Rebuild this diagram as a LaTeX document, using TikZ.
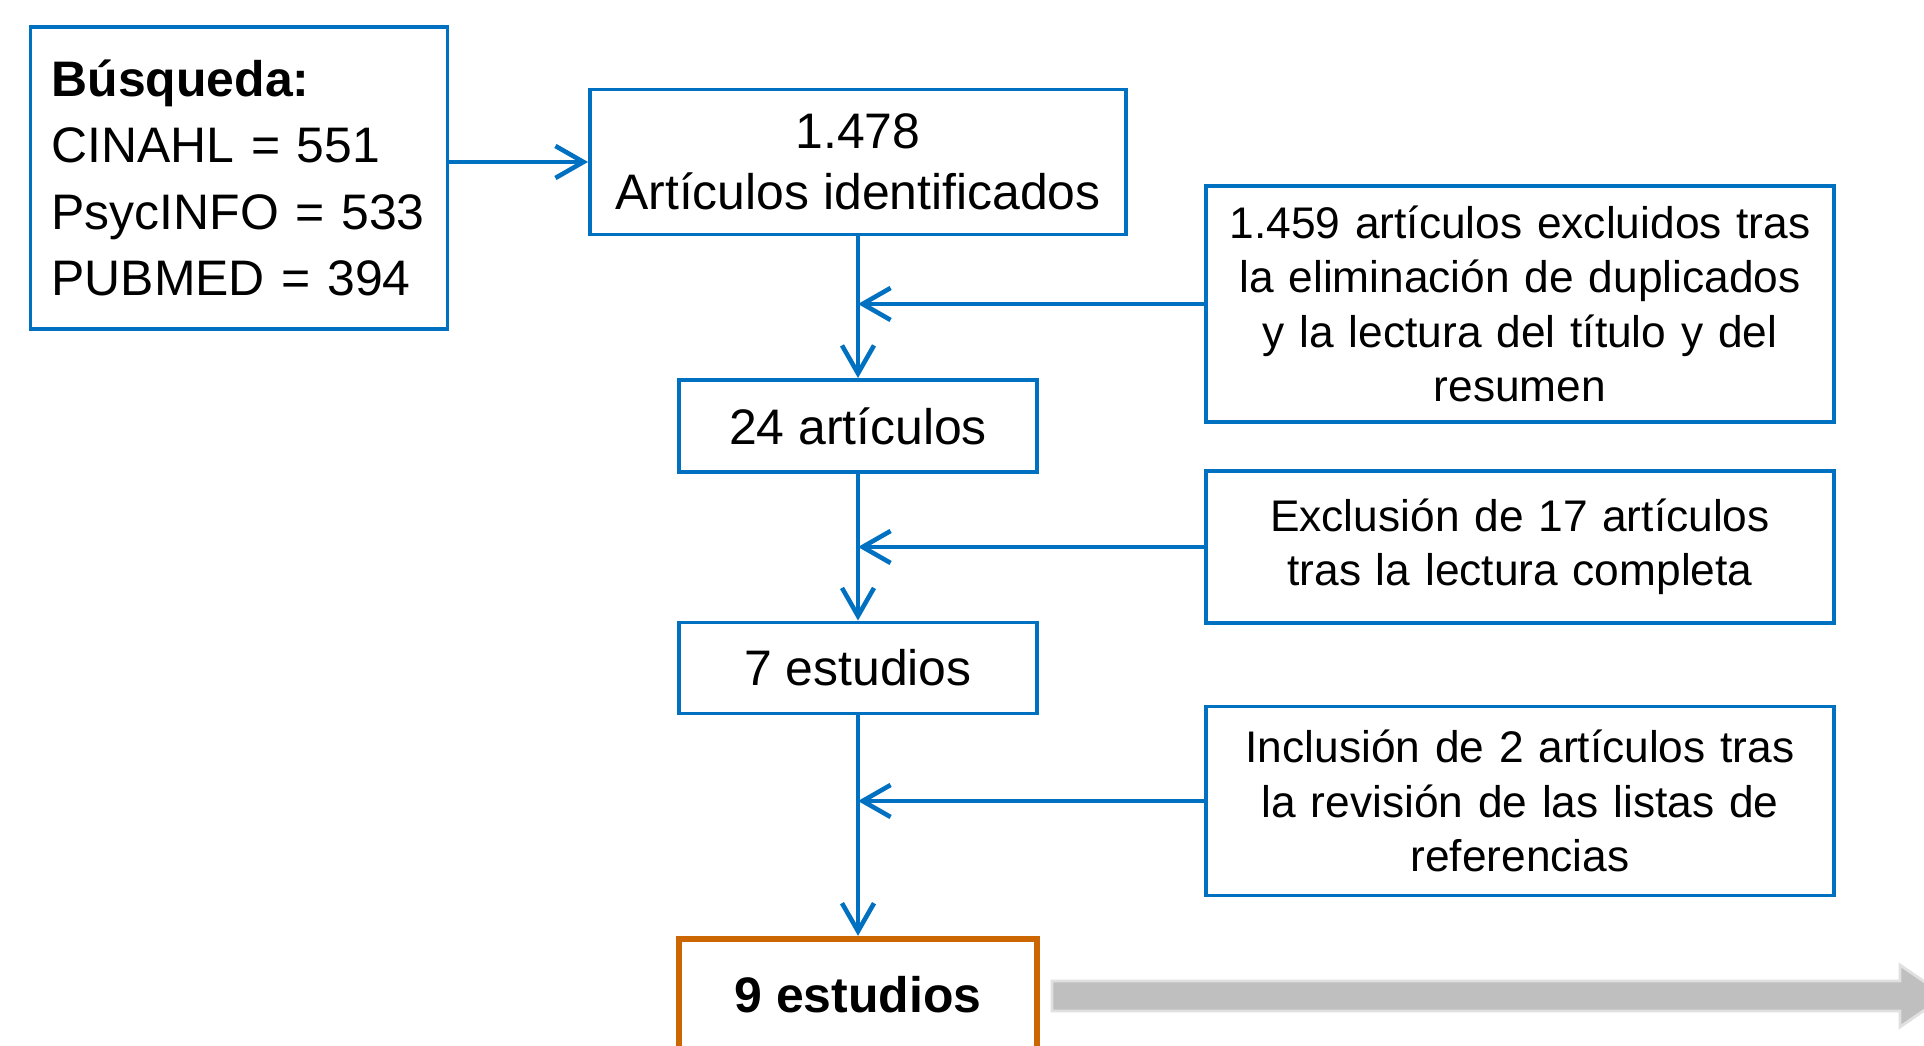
\documentclass[tikz,border=0pt]{standalone}
\usepackage{fontspec}
\setmainfont{Liberation Sans}
\usetikzlibrary{arrows.meta}
\definecolor{azul}{RGB}{0,112,192}
\definecolor{naranja}{RGB}{204,102,0}
\begin{document}
\begin{tikzpicture}[
  caja/.style={draw=azul, line width=1.1pt, fill=white, align=center, inner sep=0pt,
    font=\fontsize{14.2}{17.5}\selectfont},
  nota/.style={caja, minimum width=6.28cm, text width=6.2cm,
    font=\fontsize{12.6}{15.5}\selectfont},
  flecha/.style={draw=azul, line width=1.3pt, -{Straight Barb[length=2.8mm,width=3.2mm]}}
]
  \useasboundingbox (0,0) rectangle (19.24,10.46);
  % columna central
  \node[caja, align=left, text width=3.75cm, minimum width=4.17cm, minimum height=3.02cm,
    font=\fontsize{14.2}{18.8}\selectfont] (busq) at (2.39,8.68)
    {\textbf{Búsqueda:}\\CINAHL = 551\\PsycINFO = 533\\PUBMED = 394};
  \node[caja, minimum width=5.36cm, minimum height=1.45cm] (art) at (8.58,8.84)
    {1.478\\Artículos identificados};
  \node[caja, minimum width=3.58cm, minimum height=0.92cm] (a24) at (8.58,6.20) {24 artículos};
  \node[caja, minimum width=3.58cm, minimum height=0.91cm] (e7) at (8.58,3.78) {7 estudios};
  \node[caja, draw=naranja, line width=1.8pt, minimum width=3.58cm, minimum height=1.12cm]
    (fin) at (8.58,0.51) {\textbf{9 estudios}};
  % cajas de la derecha
  \node[nota, minimum height=2.36cm] (exc1) at (15.20,7.42)
    {1.459 artículos excluidos tras\\la eliminación de duplicados\\y la lectura del título y del\\resumen};
  \node[nota, minimum height=1.52cm] (exc2) at (15.20,4.99)
    {Exclusión de 17 artículos\\tras la lectura completa};
  \node[nota, minimum height=1.89cm] (inc) at (15.20,2.45)
    {Inclusión de 2 artículos tras\\la revisión de las listas de\\referencias};
  % flechas
  \draw[flecha] (busq.east |- art.west) -- (art.west);
  \draw[flecha] (art.south) -- (a24.north);
  \draw[flecha] (exc1.west) -- (exc1.west -| art.south);
  \draw[flecha] (a24.south) -- (e7.north);
  \draw[flecha] (exc2.west) -- (exc2.west -| a24.south);
  \draw[flecha] (e7.south) -- (fin.north);
  \draw[flecha] (inc.west) -- (inc.west -| e7.south);
  % flecha gris
  \draw[fill=black!25, draw=black!12, line width=0.8pt]
    (10.52,0.65) -- (19.00,0.65) -- (19.00,0.81) -- (19.45,0.50)
    -- (19.00,0.19) -- (19.00,0.35) -- (10.52,0.35) -- cycle;
\end{tikzpicture}
\end{document}
